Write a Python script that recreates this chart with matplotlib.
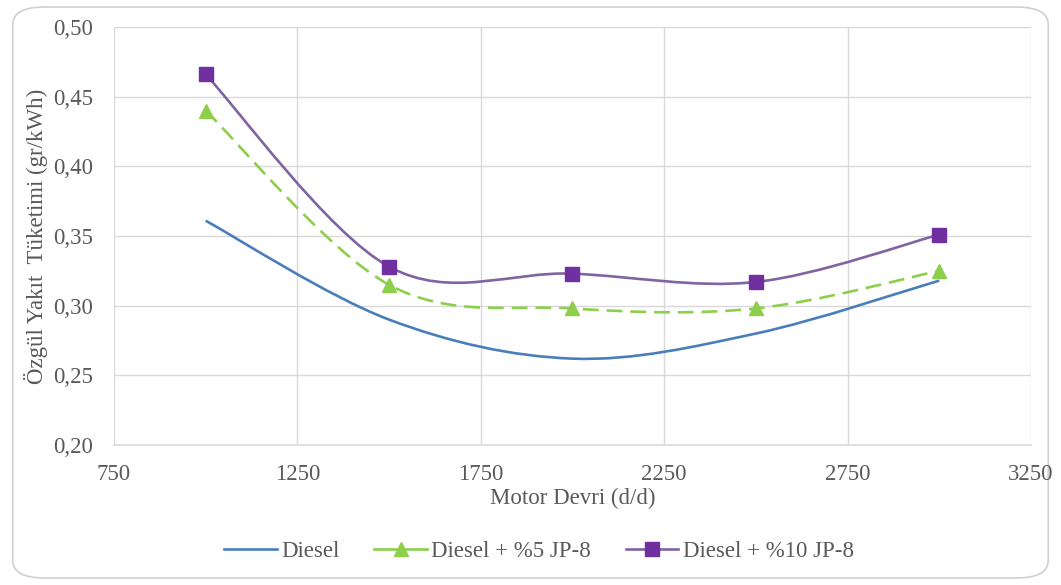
import matplotlib.pyplot as plt
import numpy as np
from matplotlib.lines import Line2D
from matplotlib.patches import FancyBboxPatch, PathPatch
from matplotlib.path import Path
from matplotlib.ticker import FuncFormatter

plt.rcParams["font.family"] = ["Liberation Serif", "DejaVu Serif"]

rpm = [1000, 1500, 2000, 2500, 3000]
diesel = [0.361, 0.290, 0.262, 0.280, 0.318]
jp8_5 = [0.440, 0.315, 0.298, 0.298, 0.325]
jp8_10 = [0.466, 0.328, 0.323, 0.317, 0.351]

x_ticks = [750, 1250, 1750, 2250, 2750, 3250]
y_ticks = [0.20, 0.25, 0.30, 0.35, 0.40, 0.45, 0.50]

TEXT = "#595959"
GRID = "#D9D9D9"
FS = 16.5


def smooth_path(xs, ys):
    # Excel-like smoothed line: cubic Bezier segments through the points
    pts = np.column_stack([xs, ys]).astype(float)
    verts = [pts[0]]
    codes = [Path.MOVETO]
    n = len(pts)
    for i in range(n - 1):
        p0 = pts[max(i - 1, 0)]
        p1 = pts[i]
        p2 = pts[i + 1]
        p3 = pts[min(i + 2, n - 1)]
        c1 = p1 + (p2 - p0) / 6.0
        c2 = p2 - (p3 - p1) / 6.0
        verts += [c1, c2, p2]
        codes += [Path.CURVE4] * 3
    return Path(verts, codes)


fig = plt.figure(figsize=(10.61, 5.85), dpi=100)
fig.patches.append(FancyBboxPatch((0.012, 0.012), 0.976, 0.976, boxstyle="round,pad=0,rounding_size=0.03",
                                  transform=fig.transFigure, facecolor="white", edgecolor="#D0D0D0",
                                  linewidth=1.2, zorder=-10))
ax = fig.add_axes([0.1074, 0.2393, 0.8643, 0.7145])
ax.set_facecolor("none")

series = [
    ("Diesel", diesel, "#4A7EBB", "-", None, None),
    ("Diesel + %5 JP-8", jp8_5, "#8DCF4A", (0, (6, 3)), "^", "#8DCF4A"),
    ("Diesel + %10 JP-8", jp8_10, "#8064A2", "-", "s", "#7030A0"),
]

handles = []
for label, ys, color, ls, marker, mcolor in series:
    ax.add_patch(PathPatch(smooth_path(rpm, ys), facecolor="none", edgecolor=color,
                           linewidth=1.9, linestyle=ls, zorder=3, capstyle="butt"))
    if marker:
        ax.plot(rpm, ys, linestyle="none", marker=marker, markersize=9.5,
                color=mcolor, markeredgecolor=mcolor, zorder=4)
    handles.append(Line2D([0], [0], color=color, linewidth=1.9,
                          marker=marker if marker else "", markersize=9.5,
                          markerfacecolor=mcolor, markeredgecolor=mcolor))

ax.set_xlim(750, 3250)
ax.set_ylim(0.20, 0.50)
ax.set_xticks(x_ticks)
ax.set_yticks(y_ticks)
ax.yaxis.set_major_formatter(FuncFormatter(lambda v, p: f"{v:.2f}".replace(".", ",")))
ax.grid(True, color=GRID, linewidth=1.0, zorder=0)
ax.set_axisbelow(True)
for side in ("left", "right", "top"):
    ax.spines[side].set_visible(False)
ax.spines["bottom"].set_color(GRID)
ax.spines["bottom"].set_linewidth(1.2)
ax.tick_params(length=0, labelsize=FS, colors=TEXT)
ax.tick_params(axis="y", pad=15)
ax.tick_params(axis="x", pad=14)

ax.set_xlabel("Motor Devri (d/d)", fontsize=FS, color=TEXT, labelpad=2)
ax.set_ylabel("Özgül Yakıt  Tüketimi (gr/kWh)", fontsize=FS, color=TEXT, labelpad=4)

leg = fig.legend(handles=handles, labels=[s[0] for s in series], loc="center",
                 bbox_to_anchor=(0.508, 0.058), ncol=3, frameon=False, fontsize=FS,
                 handlelength=2.3, columnspacing=1.5, handletextpad=0.2)
for t in leg.get_texts():
    t.set_color(TEXT)

fig.savefig("out.png", dpi=100)
